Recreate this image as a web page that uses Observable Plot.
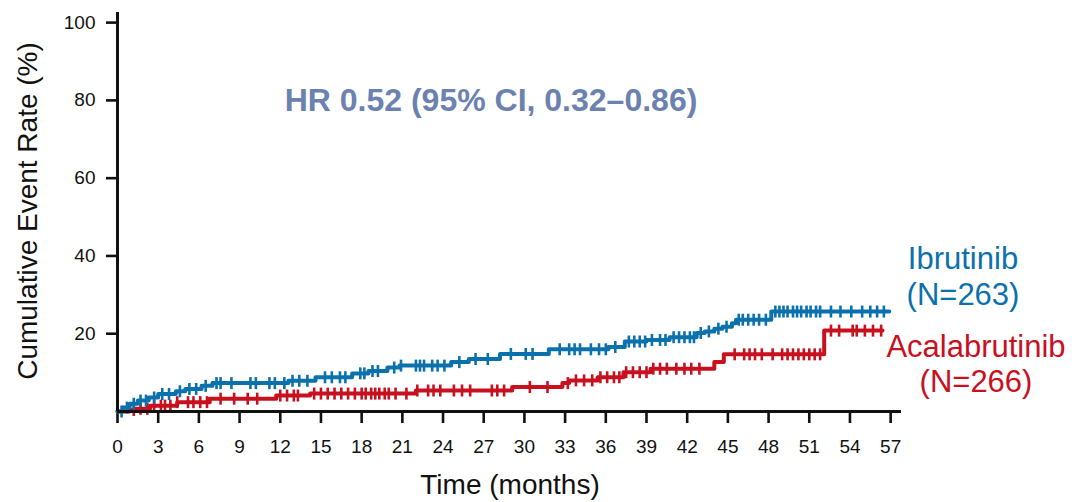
<!DOCTYPE html>
<html>
<head>
<meta charset="utf-8">
<script src="https://cdn.jsdelivr.net/npm/d3@7"></script>
<script src="https://cdn.jsdelivr.net/npm/@observablehq/plot@0.6"></script>
<style>
  html, body { margin: 0; padding: 0; background: #fff; }
  #chart svg { display: block; }
</style>
</head>
<body>
<div id="chart"></div>
<script>
// ---- data ----
const xTicks = [0, 3, 6, 9, 12, 15, 18, 21, 24, 27, 30, 33, 36, 39, 42, 45, 48, 51, 54, 57];
const yTicks = [20, 40, 60, 80, 100];

// Ibrutinib: step change times (months) and cumulative event rate (%)
const ibruTime = [0, 0.4, 0.9, 1.5, 2.3, 3.0, 4.3, 5.0, 6.2, 7.0, 12.6, 14.6, 17.3, 18.5, 19.9, 20.8, 24.6, 25.9, 28.2, 31.8, 36.2, 37.4, 39.0, 40.7, 42.7, 43.3, 44.0, 44.6, 45.3, 45.6, 48.2, 56.9];
const ibruRate = [0, 1.0, 2.0, 2.8, 3.6, 4.5, 5.2, 5.8, 6.6, 7.3, 7.9, 8.8, 9.8, 10.4, 11.3, 11.8, 12.7, 13.5, 14.8, 16.0, 16.6, 18.0, 18.4, 19.1, 20.2, 20.6, 21.3, 21.8, 22.7, 23.6, 25.7, 25.7];
const ibruCensor = [0.3, 0.7, 1.2, 1.7, 2.1, 2.7, 3.3, 3.8, 4.6, 5.3, 5.8, 6.5, 7.3, 7.6, 8.4, 9.8, 10.2, 11.2, 11.6, 12.3, 12.9, 13.4, 14.0, 15.3, 15.8, 16.4, 16.8, 17.9, 18.2, 18.8, 19.2, 20.4, 20.9, 22.0, 22.3, 22.6, 23.2, 23.6, 24.1, 25.2, 26.4, 27.3, 29.0, 30.1, 30.6, 32.6, 33.3, 33.7, 34.1, 34.9, 35.5, 36.0, 36.7, 37.7, 38.1, 38.5, 38.9, 39.4, 40.0, 40.4, 41.0, 41.4, 41.8, 42.2, 42.5, 43.0, 43.6, 44.3, 44.9, 45.8, 46.1, 46.5, 46.9, 47.3, 47.8, 48.5, 48.8, 49.1, 49.4, 49.8, 50.1, 50.4, 50.8, 51.1, 51.5, 51.8, 52.6, 53.3, 54.1, 54.9, 55.5, 56.0, 56.5];

// Acalabrutinib
const acalaTime = [0, 0.9, 1.3, 2.4, 4.4, 6.8, 11.7, 14.2, 22.0, 29.1, 32.8, 33.3, 35.4, 37.3, 39.3, 44.0, 44.7, 52.1, 56.4];
const acalaRate = [0, 0.4, 0.7, 1.5, 2.4, 3.3, 4.1, 4.6, 5.4, 6.3, 7.3, 8.0, 8.8, 10.1, 11.0, 12.7, 14.7, 20.8, 20.8];
const acalaCensor = [1.2, 1.7, 2.2, 2.7, 3.2, 3.5, 3.9, 4.4, 5.2, 5.6, 6.1, 6.6, 7.6, 8.6, 9.6, 10.3, 12.0, 12.5, 13.0, 13.3, 14.5, 15.0, 15.5, 16.0, 16.5, 17.0, 17.5, 18.0, 18.3, 18.7, 19.0, 19.3, 19.7, 20.0, 20.5, 21.3, 22.1, 22.9, 23.3, 23.8, 24.8, 25.4, 26.0, 27.6, 28.0, 28.5, 30.4, 31.7, 33.2, 33.8, 34.4, 35.0, 35.6, 36.1, 36.6, 37.0, 37.5, 38.0, 38.5, 39.0, 39.5, 40.0, 40.5, 41.2, 41.8, 42.3, 42.9, 45.5, 46.2, 46.6, 47.0, 47.5, 48.3, 49.0, 49.4, 49.8, 50.2, 50.6, 51.0, 51.4, 51.8, 52.6, 53.2, 54.2, 54.5, 55.1, 55.7, 56.3];

// ---- build tables ----
function stepAt(T, V, t) {
  let v = 0;
  for (let i = 0; i < T.length; i++) if (T[i] <= t) v = V[i];
  return v;
}
const ibruLine = ibruTime.map((t, i) => ({t, v: ibruRate[i]}));
const acalaLine = acalaTime.map((t, i) => ({t, v: acalaRate[i]}));
const ibruCens = ibruCensor.map(t => ({t, v: stepAt(ibruTime, ibruRate, t)}));
const acalaCens = acalaCensor.map(t => ({t, v: stepAt(acalaTime, acalaRate, t)}));

const BLUE = "#0b71ac";
const RED = "#c8101f";
const FONT = "'Liberation Sans', Arial, sans-serif";

const vtick = {
  draw(context, size) {
    const h = 6;
    context.moveTo(0, -h);
    context.lineTo(0, h);
  }
};

const plot = Plot.plot({
  width: 1074,
  height: 502,
  marginLeft: 117,
  marginRight: 173,
  marginTop: 12,
  marginBottom: 91,
  style: {fontFamily: FONT, fontSize: "19px", background: "#fff", color: "#111"},
  x: {domain: [0, 57.8]},
  y: {domain: [0, 102.6]},
  marks: [
    Plot.axisX({ticks: xTicks, tickSize: 12, tickPadding: 16, fontSize: 19, label: null, stroke: "#111"}),
    Plot.axisY({ticks: yTicks, tickSize: 11, tickPadding: 11, fontSize: 19, label: null, stroke: "#111"}),
    Plot.line(acalaLine, {x: "t", y: "v", curve: "step-after", stroke: RED, strokeWidth: 4}),
    Plot.dot(acalaCens, {x: "t", y: "v", symbol: vtick, stroke: RED, strokeWidth: 2.6, fill: "none"}),
    Plot.line(ibruLine, {x: "t", y: "v", curve: "step-after", stroke: BLUE, strokeWidth: 4}),
    Plot.dot(ibruCens, {x: "t", y: "v", symbol: vtick, stroke: BLUE, strokeWidth: 2.6, fill: "none"}),
    Plot.ruleY([0], {strokeWidth: 3, stroke: "#111"}),
    Plot.ruleX([0], {strokeWidth: 3, stroke: "#111"})
  ]
});

const svg = d3.select(plot);
svg.selectAll("g[aria-label$='tick']")
  .style("stroke-width", "2.6px");
svg.selectAll("g[aria-label$='tick label']")
  .style("font-size", "19px")
  .selectAll("text").style("font-size", "19px");

svg.append("text")
  .attr("transform", "translate(37,211) rotate(-90)")
  .attr("text-anchor", "middle")
  .style("font-family", FONT)
  .style("font-size", "28px")
  .attr("fill", "#111")
  .text("Cumulative Event Rate (%)");
svg.append("text")
  .attr("x", 510).attr("y", 494)
  .attr("text-anchor", "middle")
  .style("font-family", FONT)
  .style("font-size", "28px")
  .attr("fill", "#111")
  .text("Time (months)");
svg.append("text")
  .attr("x", 491).attr("y", 111)
  .attr("text-anchor", "middle")
  .style("font-family", FONT)
  .style("font-weight", "bold")
  .style("font-size", "32px")
  .attr("fill", "#6b82b0")
  .text("HR 0.52 (95% CI, 0.32–0.86)");
const legend = [
  {text: "Ibrutinib", x: 963, y: 269, color: BLUE},
  {text: "(N=263)", x: 963, y: 305, color: BLUE},
  {text: "Acalabrutinib", x: 976, y: 357, color: RED},
  {text: "(N=266)", x: 976, y: 392, color: RED}
];
svg.selectAll("text.lg").data(legend).join("text")
  .attr("class", "lg")
  .attr("x", d => d.x).attr("y", d => d.y)
  .attr("text-anchor", "middle")
  .style("font-family", FONT)
  .style("font-size", "31px")
  .attr("fill", d => d.color)
  .text(d => d.text);

document.getElementById("chart").appendChild(plot);
</script>
</body>
</html>
